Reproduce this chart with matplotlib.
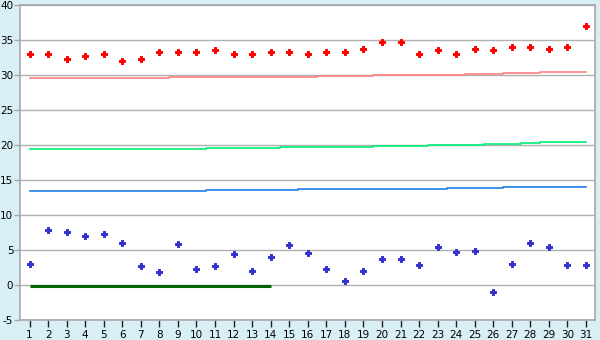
import numpy as np
import matplotlib
matplotlib.use("Agg")
import matplotlib.pyplot as plt

plt.rcParams["axes.unicode_minus"] = False

days = list(range(1, 32))

upper_pts = [33.0, 33.0, 32.4, 32.7, 33.0, 32.1, 32.3, 33.4, 33.3, 33.3,
             33.6, 33.1, 33.0, 33.4, 33.4, 33.1, 33.4, 33.4, 33.7, 34.7,
             34.7, 33.1, 33.6, 33.1, 33.7, 33.6, 34.0, 34.0, 33.7, 34.0, 37.1]
lower_pts = [3.0, 7.86, 7.57, 7.0, 7.29, 6.0, 2.71, 1.86, 5.86, 2.29,
             2.71, 4.43, 2.0, 4.0, 5.71, 4.57, 2.29, 0.57, 2.0, 3.71,
             3.71, 2.86, 5.43, 4.71, 4.86, -1.0, 3.0, 6.0, 5.43, 2.86, 2.86]

red_line = [29.57] * 8 + [29.71] * 8 + [29.86] * 3 + [30.0] * 5 + [30.14] * 2 + [30.29] * 2 + [30.43] * 3
green_line = [19.43] * 10 + [19.57] * 4 + [19.71] * 5 + [19.86] * 3 + [20.0] * 3 + [20.14] * 2 + [20.29] * 1 + [20.43] * 3
blue_line = [13.43] * 10 + [13.57] * 5 + [13.71] * 8 + [13.86] * 3 + [14.0] * 5
zero_days = list(range(1, 15))
zero_line = [-0.1] * 14

bg = "#d9eff6"
gridc = "#b0b0b0"

fig = plt.figure(figsize=(6, 3.4), dpi=100, facecolor=bg)
ax = fig.add_axes([0.0338, 0.0579, 0.9583, 0.9265])
ax.set_facecolor("white")

ax.yaxis.grid(True, color=gridc, linewidth=1)
ax.set_axisbelow(True)

ax.step(days, red_line, where="mid", color="#ff8080", linewidth=1.2)
ax.step(days, green_line, where="mid", color="#00ee77", linewidth=1.2)
ax.step(days, blue_line, where="mid", color="#1a7fe8", linewidth=1.2)
ax.plot(zero_days, zero_line, color="#006400", linewidth=2.2, solid_capstyle="butt")

ax.scatter(days, upper_pts, marker="P", s=16, color="#ff0000", edgecolors="#ff0000",
           linewidths=0.7, zorder=3)
ax.scatter(days, lower_pts, marker="P", s=16, color="#3333cc", edgecolors="#3333cc",
           linewidths=0.7, zorder=3)

ax.set_xlim(0.5, 31.5)
ax.set_ylim(-5, 40)
ax.set_xticks(days)
ax.set_xticklabels([str(d) for d in days])
ax.set_yticks(range(-5, 41, 5))

for side in ["top", "right", "left", "bottom"]:
    ax.spines[side].set_color("#a8a8a8")
    ax.spines[side].set_linewidth(1.2)

ax.tick_params(axis="y", length=4, width=1, color="#a8a8a8", labelsize=7.5, pad=1)
ax.tick_params(axis="x", length=5, width=1, color="#222222", labelsize=7.5, pad=2)

fig.savefig("out.png", dpi=100, facecolor=bg)
